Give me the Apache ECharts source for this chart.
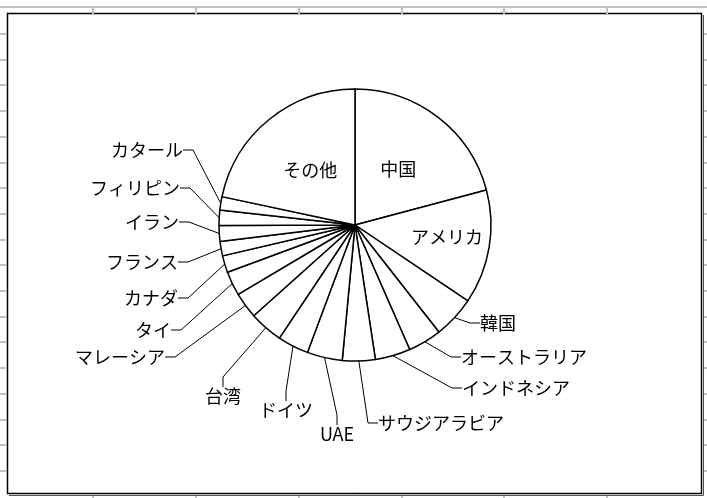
<!DOCTYPE html>
<html>
<head>
<meta charset="utf-8">
<script src="https://cdn.jsdelivr.net/npm/echarts@6/dist/echarts.min.js"></script>
<style>
html, body { margin: 0; padding: 0; background: #fff; }
#chart { width: 707px; height: 498px; }
</style>
</head>
<body>
<div id="chart"></div>
<script>
/* 国別シェア (%) - 12時から時計回り */
var countries = ['中国', 'アメリカ', '韓国', 'オーストラリア', 'インドネシア', 'サウジアラビア', 'UAE', 'ドイツ', '台湾', 'マレーシア', 'タイ', 'カナダ', 'フランス', 'イラン', 'フィリピン', 'カタール', 'その他'];
var shares = [20.9, 13.6, 5.0, 4.0, 4.2, 3.9, 4.2, 3.7, 4.0, 3.1, 2.9, 2.0, 1.7, 1.9, 1.8, 1.6, 21.7];
var insideNames = ['中国', 'アメリカ', 'その他'];

/* ラベルの置き場所 (Excel風) */
var labelPos = {
	'アメリカ': { dx: 22 },
	'韓国': { x: 480, y: 323, align: 'left' },
	'オーストラリア': { x: 461, y: 357, align: 'left' },
	'インドネシア': { x: 462, y: 388, align: 'left' },
	'サウジアラビア': { x: 378, y: 423, align: 'left' },
	'UAE': { x: 337, y: 434, align: 'center' },
	'ドイツ': { x: 313, y: 410, align: 'right' },
	'台湾': { x: 241, y: 396, align: 'right' },
	'マレーシア': { x: 165, y: 357, align: 'right' },
	'タイ': { x: 171, y: 330, align: 'right' },
	'カナダ': { x: 178, y: 298, align: 'right' },
	'フランス': { x: 178, y: 262, align: 'right' },
	'イラン': { x: 179, y: 222, align: 'right' },
	'フィリピン': { x: 180, y: 188, align: 'right' },
	'カタール': { x: 183, y: 150, align: 'right' }
};

var pieData = [];
for (var i = 0; i < countries.length; i++) {
	var item = { name: countries[i], value: shares[i] };
	if (insideNames.indexOf(countries[i]) >= 0) {
		item.label = { position: 'inside' };
		item.labelLine = { show: false };
	}
	pieData.push(item);
}

/* 背景のシート罫線と枠 */
var sheetGray = '#c0c0c0';
var graphics = [];
graphics.push({ type: 'line', shape: { x1: 0, y1: 7, x2: 707, y2: 7 }, style: { stroke: sheetGray, lineWidth: 2 } });
var colX = [93, 196, 299, 402, 504, 607];
for (var c = 0; c < colX.length; c++) {
	graphics.push({ type: 'line', shape: { x1: colX[c], y1: 7, x2: colX[c], y2: 14 }, style: { stroke: sheetGray, lineWidth: 2 } });
	graphics.push({ type: 'line', shape: { x1: colX[c], y1: 494, x2: colX[c], y2: 498 }, style: { stroke: sheetGray, lineWidth: 2 } });
}
for (var r = 0; r < 18; r++) {
	var ry = Math.round(34 + r * 25.7);
	graphics.push({ type: 'line', shape: { x1: 0, y1: ry, x2: 7, y2: ry }, style: { stroke: sheetGray, lineWidth: 2 } });
	graphics.push({ type: 'line', shape: { x1: 702, y1: ry, x2: 707, y2: ry }, style: { stroke: sheetGray, lineWidth: 2 } });
}
graphics.push({ type: 'rect', shape: { x: 7.5, y: 13.5, width: 694, height: 480 }, style: { fill: '#fff', stroke: '#000', lineWidth: 1.5 }, z: -1 });
graphics.push({ type: 'polyline', shape: { points: [[703.5, 15], [703.5, 495.5], [9, 495.5]] }, style: { fill: null, stroke: '#555', lineWidth: 1 } });

var option = {
	backgroundColor: '#fff',
	animation: false,
	graphic: graphics,
	series: [
		{
			name: 'シェア',
			type: 'pie',
			center: [355, 225],
			radius: [0, 136],
			startAngle: 90,
			clockwise: true,
			avoidLabelOverlap: false,
			itemStyle: { color: '#fff', borderColor: '#000', borderWidth: 1.5 },
			emphasis: { disabled: true },
			label: {
				show: true,
				color: '#000',
				fontFamily: '"Noto Sans CJK JP", sans-serif',
				fontSize: 18,
				formatter: '{b}'
			},
			labelLine: {
				show: true,
				length: 10,
				length2: 10,
				minTurnAngle: 0,
				lineStyle: { color: '#000', width: 1 }
			},
			labelLayout: function (params) {
				var p = labelPos[countries[params.dataIndex]];
				if (!p) return {};
				if (p.dx != null) return { dx: p.dx };
				return { x: p.x, y: p.y, align: p.align, verticalAlign: 'middle' };
			},
			data: pieData
		}
	]
};

var chart = echarts.init(document.getElementById('chart'));
chart.setOption(option);
</script>
</body>
</html>
